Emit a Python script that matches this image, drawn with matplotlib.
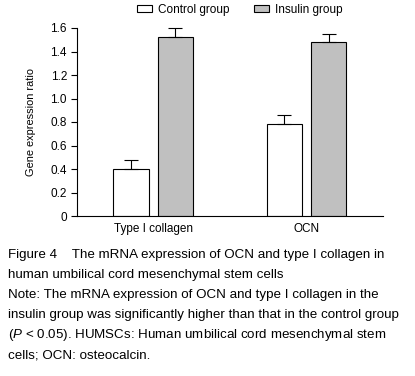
import matplotlib
matplotlib.use("Agg")
import matplotlib.pyplot as plt
import numpy as np

plt.rcParams['font.family'] = ['Liberation Sans', 'DejaVu Sans']
plt.rcParams['mathtext.fontset'] = 'custom'
plt.rcParams['mathtext.rm'] = 'Liberation Sans'
plt.rcParams['mathtext.it'] = 'Liberation Sans:italic'

categories = ["Type I collagen", "OCN"]
series_names = ["Control group", "Insulin group"]
control = [0.40, 0.78]
control_err = [0.08, 0.08]
insulin = [1.52, 1.48]
insulin_err = [0.08, 0.07]
yticks = [0, 0.2, 0.4, 0.6, 0.8, 1.0, 1.2, 1.4, 1.6]
yticklabels = ["0", "0.2", "0.4", "0.6", "0.8", "1.0", "1.2", "1.4", "1.6"]

W, H = 415, 376
fig = plt.figure(figsize=(W/100, H/100), dpi=100)
ax = fig.add_axes([76.7/W, 1-216/H, (383-76.7)/W, (216-28)/H])

x = np.arange(len(categories))
bw = 0.23
off = 0.145
b1 = ax.bar(x-off, control, bw, color='white', edgecolor='black', linewidth=0.8,
            yerr=[np.zeros(2), control_err], capsize=5,
            error_kw=dict(elinewidth=0.8, capthick=0.8, ecolor='black', clip_on=False),
            label=series_names[0])
b2 = ax.bar(x+off, insulin, bw, color='#c0c0c0', edgecolor='black', linewidth=0.8,
            yerr=[np.zeros(2), insulin_err], capsize=5,
            error_kw=dict(elinewidth=0.8, capthick=0.8, ecolor='black', clip_on=False),
            label=series_names[1])

ax.set_xlim(-0.5, 1.5)
ax.set_ylim(0, 1.6)
ax.set_yticks(yticks)
ax.set_yticklabels(yticklabels, fontsize=8.5)
ax.set_xticks(x)
ax.set_xticklabels(categories, fontsize=8.5)
ax.tick_params(axis='x', length=0, pad=5)
ax.tick_params(axis='y', length=4, width=0.8, direction='out', pad=3)
for s in ['top', 'right']:
    ax.spines[s].set_visible(False)
for s in ['left', 'bottom']:
    ax.spines[s].set_linewidth(0.8)
ax.set_ylabel("Gene expression ratio", fontsize=7.9)
ax.yaxis.set_label_coords((36-76.7)/(383-76.7), 0.5)

fig.legend(handles=[b1, b2], labels=series_names, loc='center',
           bbox_to_anchor=(239.5/W, 1-9.5/H), ncol=2, frameon=False,
           fontsize=8.5, handlelength=1.27, handleheight=0.6, handletextpad=0.5,
           columnspacing=2.1, borderaxespad=0, borderpad=0)

lines = [
    "Figure 4    The mRNA expression of OCN and type I collagen in",
    "human umbilical cord mesenchymal stem cells",
    "Note: The mRNA expression of OCN and type I collagen in the",
    "insulin group was significantly higher than that in the control group",
    "($\\it{P}$ < 0.05). HUMSCs: Human umbilical cord mesenchymal stem",
    "cells; OCN: osteocalcin.",
]
y0 = 255
for i, t in enumerate(lines):
    fig.text(8/W, 1-(y0+20*i)/H, t, fontsize=9.6, va='center', ha='left')

fig.savefig("out.png", dpi=100)
